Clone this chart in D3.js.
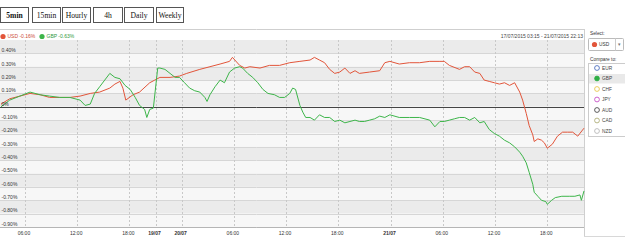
<!DOCTYPE html>
<html>
<head>
<meta charset="utf-8">
<script src="https://cdn.jsdelivr.net/npm/d3@7"></script>
<style>
body { margin: 0; background: #fff; }
svg { display: block; }
</style>
</head>
<body>
<svg id="drawing_region"></svg>
<script>
// period buttons across the top
const periods = ["5min", "15min", "Hourly", "4h", "Daily", "Weekly"];

// USD vs basket, % change
const usdTimes = ["17/07 03:15","17/07 04:15","17/07 05:25","17/07 06:35","17/07 07:45","17/07 08:50","17/07 10:00","17/07 11:10","17/07 12:20","17/07 13:30","17/07 14:35","17/07 15:45","17/07 16:20","17/07 16:55","17/07 17:15","17/07 17:35","17/07 18:25","17/07 19:10","17/07 20:20","17/07 20:55",
    "19/07 21:30","19/07 22:40","19/07 23:45","20/07 00:35","20/07 02:05","20/07 03:15","20/07 04:25","20/07 05:30","20/07 05:50","20/07 06:40","20/07 07:15","20/07 07:50","20/07 09:00","20/07 10:05","20/07 11:15","20/07 12:25","20/07 13:35","20/07 14:45","20/07 15:15","20/07 15:50","20/07 16:25","20/07 17:00","20/07 17:35","20/07 18:10","20/07 18:45","20/07 19:20","20/07 19:55","20/07 20:25","20/07 21:35","20/07 22:45","20/07 23:20","20/07 23:55",
    "21/07 01:00","21/07 02:10","21/07 03:20","21/07 04:30","21/07 05:40","21/07 06:10","21/07 06:45","21/07 07:55","21/07 08:30","21/07 09:05","21/07 09:40","21/07 10:15","21/07 10:45","21/07 11:20","21/07 11:55","21/07 12:30","21/07 13:05","21/07 13:40","21/07 14:15","21/07 14:50","21/07 15:10","21/07 15:35","21/07 15:55","21/07 16:20","21/07 16:30","21/07 16:55","21/07 17:20","21/07 17:40","21/07 18:00","21/07 18:35","21/07 19:10","21/07 19:45","21/07 20:20","21/07 20:55","21/07 21:30","21/07 22:13"];
const usdValues = [0.02,0.06,0.08,0.10,0.09,0.07,0.07,0.07,0.08,0.10,0.11,0.14,0.17,0.19,0.14,0.05,0.09,0.11,0.18,0.20,
    0.22,0.22,0.23,0.25,0.28,0.30,0.32,0.34,0.37,0.31,0.29,0.30,0.29,0.31,0.31,0.33,0.34,0.35,0.37,0.35,0.33,0.28,0.25,0.26,0.29,0.25,0.27,0.25,0.26,0.27,0.33,0.34,
    0.32,0.33,0.33,0.34,0.34,0.34,0.31,0.28,0.30,0.30,0.26,0.25,0.20,0.19,0.18,0.17,0.18,0.16,0.18,0.11,0.05,-0.05,-0.14,-0.21,-0.26,-0.24,-0.25,-0.27,-0.31,-0.28,-0.22,-0.19,-0.19,-0.19,-0.22,-0.16];

// GBP vs basket, % change
const gbpTimes = ["17/07 03:15","17/07 04:15","17/07 05:25","17/07 06:35","17/07 07:45","17/07 08:50","17/07 10:00","17/07 11:10","17/07 12:20","17/07 12:55","17/07 13:30","17/07 14:00","17/07 14:35","17/07 15:10","17/07 15:45","17/07 16:20","17/07 16:55","17/07 17:30","17/07 18:05","17/07 18:40","17/07 19:10","17/07 19:45","17/07 20:00","17/07 20:20","17/07 20:45",
    "19/07 21:15","19/07 21:30","19/07 22:05","19/07 22:40","19/07 23:15","19/07 23:45","20/07 00:20","20/07 00:55","20/07 01:30","20/07 02:05","20/07 02:40","20/07 02:55","20/07 03:15","20/07 03:50","20/07 04:25","20/07 04:55","20/07 05:30","20/07 06:05","20/07 06:40","20/07 07:00","20/07 07:35","20/07 08:10","20/07 08:45","20/07 09:20","20/07 09:55","20/07 10:40","20/07 11:15","20/07 11:50","20/07 12:25","20/07 12:45","20/07 13:05","20/07 13:35","20/07 13:55","20/07 14:15","20/07 14:45","20/07 15:15","20/07 15:50","20/07 16:25","20/07 17:00","20/07 17:35","20/07 18:10","20/07 18:45","20/07 19:20","20/07 19:55","20/07 20:25","20/07 21:00","20/07 21:35","20/07 22:10","20/07 22:45","20/07 23:20","20/07 23:55",
    "21/07 01:00","21/07 02:10","21/07 03:20","21/07 04:30","21/07 05:05","21/07 05:40","21/07 06:10","21/07 06:45","21/07 07:20","21/07 07:55","21/07 08:30","21/07 09:05","21/07 09:40","21/07 10:15","21/07 10:45","21/07 11:20","21/07 11:55","21/07 12:30","21/07 13:05","21/07 13:40","21/07 14:15","21/07 14:50","21/07 15:10","21/07 15:35","21/07 15:55","21/07 16:20","21/07 16:30","21/07 16:55","21/07 17:20","21/07 17:50","21/07 18:00","21/07 18:30","21/07 18:55","21/07 19:40","21/07 20:35","21/07 21:10","21/07 21:45","21/07 21:55","21/07 22:13"];
const gbpValues = [0.00,0.05,0.08,0.11,0.09,0.08,0.07,0.07,0.05,0.01,0.02,0.10,0.15,0.20,0.25,0.22,0.21,0.16,0.13,0.07,0.01,-0.02,-0.08,-0.02,-0.01,
    0.29,0.29,0.28,0.25,0.22,0.22,0.18,0.14,0.12,0.11,0.07,0.04,0.09,0.15,0.20,0.18,0.26,0.29,0.30,0.29,0.25,0.22,0.18,0.13,0.10,0.09,0.07,0.07,0.10,0.14,0.13,0.01,-0.04,-0.08,-0.08,-0.10,-0.06,-0.08,-0.08,-0.11,-0.10,-0.12,-0.11,-0.10,-0.11,-0.11,-0.10,-0.09,-0.07,-0.08,-0.06,
    -0.08,-0.08,-0.08,-0.10,-0.15,-0.11,-0.11,-0.10,-0.09,-0.08,-0.08,-0.10,-0.08,-0.12,-0.11,-0.17,-0.20,-0.22,-0.25,-0.27,-0.30,-0.34,-0.37,-0.42,-0.49,-0.58,-0.64,-0.67,-0.70,-0.71,-0.73,-0.70,-0.68,-0.67,-0.67,-0.67,-0.66,-0.70,-0.63];

const seriesNames = ["USD", "GBP"];
const seriesChange = ["-0.16%", "-0.63%"];

const yTicks = [0.4, 0.3, 0.2, 0.1, 0, -0.1, -0.2, -0.3, -0.4, -0.5, -0.6, -0.7, -0.8, -0.9];
const xTicks = ["17/07 06:00","17/07 12:00","17/07 18:00","19/07 21:00","20/07 00:00","20/07 06:00","20/07 12:00","20/07 18:00","21/07 00:00","21/07 06:00","21/07 12:00","21/07 18:00"];

const compareNames = ["EUR", "GBP", "CHF", "JPY", "AUD", "CAD", "NZD"];
const compareColors = ["#3a5fb8", "#2fae45", "#e6c03a", "#c03cc0", "#333333", "#a6a46a", "#b0b0b0"];

const rangeText = "17/07/2015 03:15 - 21/07/2015 22:13";

const parse = s => d3.timeParse("%Y %d/%m %H:%M")("2015 " + s);

class FxChart {

    constructor( config ) {
        this.config = config;
        this.init();
    }

    init() {
        let self = this;

        self.svg = d3.select( self.config.parent )
            .attr('width', self.config.width)
            .attr('height', self.config.height)
            .style('font-family', '"Liberation Sans", Arial, sans-serif');

        self.origin = parse("17/07 00:00");
        self.reopen = parse("19/07 21:00");

        self.xscale = d3.scaleLinear()
            .range( [1, 584] );

        self.yscale = d3.scaleLinear()
            .domain( [-0.9, 0.5] )
            .range( [227, 40] );

        self.series = [
            { name: seriesNames[0], change: seriesChange[0], color: '#e2553a', text: '#cc4a35',
              values: usdTimes.map( (t, i) => ({ date: parse(t), value: usdValues[i] }) ) },
            { name: seriesNames[1], change: seriesChange[1], color: '#3db54a', text: '#2f9a3c',
              values: gbpTimes.map( (t, i) => ({ date: parse(t), value: gbpValues[i] }) ) },
        ];
    }

    // hours of trading since 17/07 00:00, weekend closed from fri 21:00 to sun 21:00
    hours( d ) {
        let h = (d - this.origin) / 36e5;
        if ( d >= this.reopen ) h -= 48;
        return h;
    }

    update() {
        let self = this;
        self.xscale.domain( [ self.hours(parse("17/07 03:15")), self.hours(parse("21/07 22:13")) ] );
        self.render();
    }

    render() {
        let self = this;
        const x = d => self.xscale( self.hours(d) );
        const y = self.yscale;

        // period buttons
        const bx = [0, 32, 62, 93, 124, 156];
        const bw = [28, 28, 28, 29, 29, 27];
        const buttons = self.svg.append('g').selectAll('g')
            .data(periods).join('g');
        buttons.append('rect')
            .attr('x', (d, i) => bx[i] + 0.5).attr('y', 7.5)
            .attr('width', (d, i) => bw[i]).attr('height', 15)
            .attr('fill', '#fff').attr('stroke', '#555');
        buttons.append('text')
            .attr('x', (d, i) => bx[i] + bw[i] / 2 + 0.5).attr('y', 18)
            .attr('text-anchor', 'middle')
            .style('font-family', '"Liberation Serif", "Times New Roman", serif')
            .style('font-size', '7.6px')
            .style('font-weight', (d, i) => i == 0 ? 'bold' : 'normal')
            .attr('fill', '#111')
            .text(d => d);

        // header line
        self.svg.append('line')
            .attr('x1', 0).attr('x2', 585).attr('y1', 29.5).attr('y2', 29.5)
            .attr('stroke', '#cfcfcf');

        // legend
        const legend = self.svg.append('g').selectAll('g')
            .data(self.series).join('g')
            .attr('transform', (d, i) => `translate(${i * 39}, 0)`);
        legend.append('circle')
            .attr('cx', 3).attr('cy', 36.5).attr('r', 2.6)
            .attr('fill', d => d.color);
        legend.append('text')
            .attr('x', 7.5).attr('y', 38.4)
            .style('font-size', '5px')
            .attr('fill', d => d.text)
            .text(d => `${d.name} ${d.change}`);

        self.svg.append('text')
            .attr('x', 583).attr('y', 38.4)
            .attr('text-anchor', 'end')
            .style('font-size', '5px')
            .attr('fill', '#444')
            .text(rangeText);

        // bands
        const bands = d3.range(0.5, -0.9, -0.1).map(v => Math.round(v * 10) / 10);
        self.svg.append('g').selectAll('rect')
            .data(bands).join('rect')
            .attr('x', 0).attr('width', 584)
            .attr('y', d => y(d))
            .attr('height', d => y(d - 0.1) - y(d))
            .attr('fill', (d, i) => i % 2 == 0 ? '#ebebeb' : '#f7f7f7');

        self.svg.append('g').selectAll('line')
            .data(yTicks.filter(d => d != 0)).join('line')
            .attr('x1', 0).attr('x2', 584)
            .attr('y1', d => Math.round(y(d)) + 0.5).attr('y2', d => Math.round(y(d)) + 0.5)
            .attr('stroke', '#d6d6d6');

        // vertical dashed grid
        const ticks = xTicks.map(parse);
        self.svg.append('g').selectAll('line')
            .data(ticks).join('line')
            .attr('x1', d => Math.round(x(d)) + 0.5).attr('x2', d => Math.round(x(d)) + 0.5)
            .attr('y1', 40).attr('y2', 227)
            .attr('stroke', '#c8c8c8')
            .attr('stroke-dasharray', '2,2');

        // zero line
        self.svg.append('line')
            .attr('x1', 0).attr('x2', 584)
            .attr('y1', Math.round(y(0)) + 0.5).attr('y2', Math.round(y(0)) + 0.5)
            .attr('stroke', '#444');

        // x axis line + right border
        self.svg.append('line')
            .attr('x1', 0).attr('x2', 585).attr('y1', 227.5).attr('y2', 227.5)
            .attr('stroke', '#b5b5b5');
        self.svg.append('line')
            .attr('x1', 584.5).attr('x2', 584.5).attr('y1', 29).attr('y2', 236)
            .attr('stroke', '#cfcfcf');

        // lines
        const line = d3.line()
            .x(d => x(d.date))
            .y(d => y(d.value));
        self.svg.append('g').selectAll('path')
            .data(self.series).join('path')
            .attr('d', d => line(d.values))
            .attr('fill', 'none')
            .attr('stroke', d => d.color)
            .attr('stroke-width', 1)
            .attr('stroke-linejoin', 'round');

        // y labels
        self.svg.append('g').selectAll('text')
            .data(yTicks).join('text')
            .attr('x', 1.5).attr('y', d => y(d) - 1.2)
            .style('font-size', '5px')
            .attr('fill', '#333')
            .text(d => d == 0 ? '0%' : d.toFixed(2) + '%');

        // x labels
        const fmtHour = d3.timeFormat('%H:%M');
        const fmtDay = d3.timeFormat('%d/%m');
        self.svg.append('g').selectAll('text')
            .data(ticks).join('text')
            .attr('x', d => x(d) - 1).attr('y', 235)
            .attr('text-anchor', 'middle')
            .style('font-size', '5px')
            .style('font-weight', d => [6, 12, 18].includes(d.getHours()) ? 'normal' : 'bold')
            .attr('fill', '#333')
            .text(d => [6, 12, 18].includes(d.getHours()) ? fmtHour(d) : fmtDay(d));

        // right panel
        const panel = self.svg.append('g');
        panel.append('line')
            .attr('x1', 584).attr('x2', 625).attr('y1', 236.5).attr('y2', 236.5)
            .attr('stroke', '#d8d8d8');
        panel.append('text')
            .attr('x', 590).attr('y', 35)
            .style('font-size', '4.8px').attr('fill', '#333')
            .text('Select:');
        panel.append('rect')
            .attr('x', 588.5).attr('y', 38.5).attr('width', 35).attr('height', 12)
            .attr('fill', '#fff').attr('stroke', '#bbb').attr('rx', 1);
        panel.append('circle')
            .attr('cx', 594.5).attr('cy', 44.5).attr('r', 2.6)
            .attr('fill', self.series[0].color);
        panel.append('text')
            .attr('x', 599).attr('y', 46.4)
            .style('font-size', '4.8px').attr('fill', '#333')
            .text(seriesNames[0]);
        panel.append('line')
            .attr('x1', 615.5).attr('x2', 615.5).attr('y1', 38.5).attr('y2', 50.5)
            .attr('stroke', '#ccc');
        panel.append('text')
            .attr('x', 619.5).attr('y', 46.4).attr('text-anchor', 'middle')
            .style('font-size', '5px').attr('fill', '#777')
            .text('▾');
        panel.append('text')
            .attr('x', 590).attr('y', 61)
            .style('font-size', '4.8px').attr('fill', '#333')
            .text('Compare to:');
        panel.append('rect')
            .attr('x', 588.5).attr('y', 63.5).attr('width', 37).attr('height', 73)
            .attr('fill', '#fff').attr('stroke', '#ccc');

        const rows = panel.append('g').selectAll('g')
            .data(compareNames).join('g')
            .attr('transform', (d, i) => `translate(0, ${68 + i * 10.5})`);
        rows.append('rect')
            .attr('x', 589).attr('y', -4.5).attr('width', 36).attr('height', 9.5)
            .attr('fill', d => d == seriesNames[1] ? '#e9e9e9' : 'none');
        rows.append('circle')
            .attr('cx', 597).attr('cy', 0).attr('r', 2.4)
            .attr('fill', (d, i) => d == seriesNames[1] ? compareColors[i] : '#fff')
            .attr('stroke', (d, i) => compareColors[i])
            .attr('stroke-width', 0.8);
        rows.append('text')
            .attr('x', 602).attr('y', 1.8)
            .style('font-size', '4.8px').attr('fill', '#444')
            .text(d => d);
    }
}

const chart = new FxChart({ parent: '#drawing_region', width: 625, height: 247 });
chart.update();
</script>
</body>
</html>
